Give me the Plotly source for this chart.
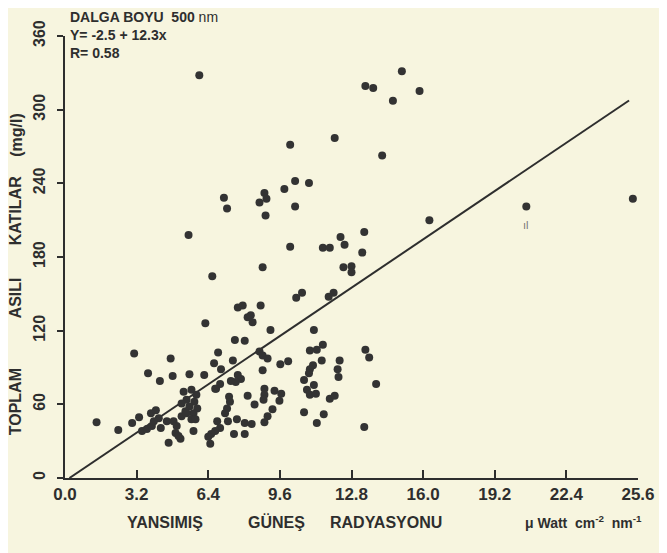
import plotly.graph_objects as go

# Scatter data (radiance, total suspended solids)
x_vals = [6.00, 15.05, 13.42, 13.77, 15.84, 14.65, 12.05, 10.06, 14.17, 10.28,
          10.90, 9.80, 8.91, 9.00, 8.69, 7.10, 7.24, 10.28, 8.96, 16.28,
          20.61, 25.37, 5.52, 12.31, 13.37, 12.49, 10.06, 11.52, 11.83, 13.28,
          8.83, 12.44, 12.80, 12.80, 6.58, 10.33, 10.59, 11.78, 12.00, 7.72,
          7.94, 8.74, 8.16, 8.30, 8.38, 6.27, 9.18, 11.12, 7.59, 8.03,
          11.52, 11.25, 10.94, 13.42, 13.59, 3.09, 6.84, 8.69, 8.83, 9.05,
          9.62, 9.97, 4.72, 6.66, 6.97, 7.50, 11.47, 12.27, 12.18, 12.22,
          11.08, 10.94, 10.90, 8.83, 3.71, 4.81, 5.56, 6.22, 4.24, 7.72,
          7.86, 7.63, 7.41, 6.93, 6.75, 13.90, 10.68, 11.12, 10.81, 10.94,
          11.21, 11.83, 12.05, 8.91, 8.91, 8.87, 9.36, 9.66, 8.16, 8.47,
          7.33, 7.37, 7.24, 7.15, 9.58, 9.27, 9.05, 8.91, 10.68, 11.56,
          11.25, 13.37, 7.28, 7.68, 8.03, 8.34, 6.80, 6.93, 6.71, 6.53,
          6.40, 7.55, 8.03, 6.49, 6.71, 5.30, 5.65, 5.87, 5.43, 5.78,
          5.21, 5.56, 5.91, 5.38, 5.74, 1.41, 2.38, 3.00, 3.31, 3.44,
          3.66, 3.88, 3.84, 4.06, 4.19, 3.97, 4.28, 4.55, 4.63, 5.16,
          4.85, 4.99, 4.94, 5.07, 5.21, 5.43, 5.74, 5.65, 5.83]
y_vals = [328.0, 331.2, 319.2, 317.6, 315.2, 307.3, 276.9, 271.4, 262.6, 241.8,
          240.2, 235.4, 232.2, 227.4, 224.3, 228.3, 219.5, 221.1, 213.9, 209.9,
          221.1, 227.4, 197.9, 196.3, 200.3, 189.9, 188.3, 187.5, 187.5, 183.6,
          171.6, 171.6, 172.4, 167.6, 164.4, 146.8, 150.8, 147.6, 150.8, 138.9,
          140.5, 140.5, 130.9, 132.5, 126.9, 126.1, 120.5, 120.5, 112.5, 111.7,
          108.5, 104.5, 103.8, 104.5, 98.2, 101.4, 102.2, 103.0, 99.8, 97.4,
          92.6, 95.0, 97.4, 93.4, 88.6, 95.8, 95.8, 95.8, 88.6, 82.2,
          91.8, 88.6, 85.4, 87.8, 85.4, 83.0, 84.6, 83.8, 79.0, 83.8,
          80.6, 78.2, 79.0, 76.6, 72.6, 76.6, 79.8, 75.8, 71.8, 67.8,
          68.6, 64.6, 67.0, 72.6, 67.8, 63.8, 71.0, 68.6, 67.0, 59.9,
          66.2, 62.2, 56.7, 52.7, 63.0, 55.9, 50.3, 45.5, 53.5, 51.9,
          44.7, 41.5, 46.3, 47.9, 44.7, 43.9, 46.3, 40.7, 38.3, 35.9,
          33.5, 35.9, 35.9, 27.9, 72.6, 70.2, 71.8, 67.8, 63.8, 62.2,
          60.7, 58.3, 56.7, 54.3, 52.7, 45.5, 39.1, 44.7, 49.5, 38.3,
          39.9, 42.3, 52.7, 55.1, 48.7, 46.3, 40.7, 46.3, 28.7, 31.9,
          46.3, 42.3, 36.7, 34.3, 50.3, 52.7, 38.3, 47.9, 47.9]

# Regression line endpoints (Y = -2.5 + 12.3x)
line_x = [0.2, 25.2]
line_y = [0.0, 307.5]

x_tick_vals = [0.0, 3.2, 6.4, 9.6, 12.8, 16.0, 19.2, 22.4, 25.6]
x_tick_text = ["0.0", "3.2", "6.4", "9.6", "12.8", "16.0", "19.2", "22.4", "25.6"]
y_tick_vals = [0, 60, 120, 180, 240, 300, 360]
y_tick_text = ["0", "60", "120", "180", "240", "300", "360"]

y_title_words = ["TOPLAM", "ASILI", "KATILAR", "(mg/l)"]
x_title_words = ["YANSIMIŞ", "GÜNEŞ", "RADYASYONU"]
header_lines = ["<b>DALGA BOYU  500</b> nm", "<b>Y= -2.5 + 12.3x</b>", "<b>R= 0.58</b>"]

bg = "#f7f5df"
ink = "#2e2e2e"
font_family = "Liberation Sans, Arial, sans-serif"

fig = go.Figure()
fig.add_trace(go.Scatter(x=line_x, y=line_y, mode="lines",
                         line=dict(color=ink, width=2), showlegend=False,
                         hoverinfo="skip"))
fig.add_trace(go.Scatter(x=x_vals, y=y_vals, mode="markers",
                         marker=dict(color="#333333", size=8, line=dict(width=0)),
                         showlegend=False))

fig.update_layout(
    width=659, height=545,
    margin=dict(l=57, r=22, t=19, b=75),
    paper_bgcolor=bg, plot_bgcolor=bg,
    font=dict(family=font_family, color=ink),
    xaxis=dict(range=[0, 25.6], tickvals=x_tick_vals,
               ticktext=["<b>%s</b>" % t for t in x_tick_text],
               showgrid=False, zeroline=False, showline=True,
               linecolor=ink, linewidth=2, ticks="inside", ticklen=8,
               tickwidth=2, tickcolor=ink,
               tickfont=dict(size=17, family=font_family, color=ink)),
    yaxis=dict(range=[0, 360], tickvals=y_tick_vals,
               ticktext=["<b>%s</b>" % t for t in y_tick_text],
               showgrid=False, zeroline=False, showline=True,
               linecolor=ink, linewidth=2, ticks="outside", ticklen=6,
               tickwidth=2, tickcolor=ink, tickangle=-90,
               ticklabelstandoff=6,
               tickfont=dict(size=16, family=font_family, color=ink)),
)

# header text (one block of three lines)
fig.add_annotation(xref="paper", yref="paper", x=0.005, y=1.066,
                   xanchor="left", yanchor="top", align="left", showarrow=False,
                   text="<br>".join(header_lines),
                   font=dict(size=14, family=font_family, color=ink))

# y-axis title words
y_word_pos = [0.173, 0.408, 0.605, 0.776]
for w, yy in zip(y_title_words, y_word_pos):
    fig.add_annotation(xref="paper", yref="paper", x=-0.086, y=yy,
                       xanchor="center", yanchor="middle", showarrow=False,
                       textangle=-90, text="<b>%s</b>" % w,
                       font=dict(size=16, family=font_family, color=ink))

# x-axis title words
x_word_pos = [0.174, 0.369, 0.560]
for w, xx in zip(x_title_words, x_word_pos):
    fig.add_annotation(xref="paper", yref="paper", x=xx, y=-0.1,
                       xanchor="center", yanchor="middle", showarrow=False,
                       text="<b>%s</b>" % w,
                       font=dict(size=16, family=font_family, color=ink))
fig.add_annotation(xref="paper", yref="paper", x=0.905, y=-0.1,
                   xanchor="center", yanchor="middle", showarrow=False,
                   text="<b>μ Watt  cm<sup>-2</sup>  nm<sup>-1</sup></b>",
                   font=dict(size=14, family=font_family, color=ink))

fig.add_annotation(x=20.6, y=206, xref="x", yref="y", showarrow=False,
                   text="ıl", font=dict(size=11, family=font_family, color="#777777"))

fig.write_html("out.html")
